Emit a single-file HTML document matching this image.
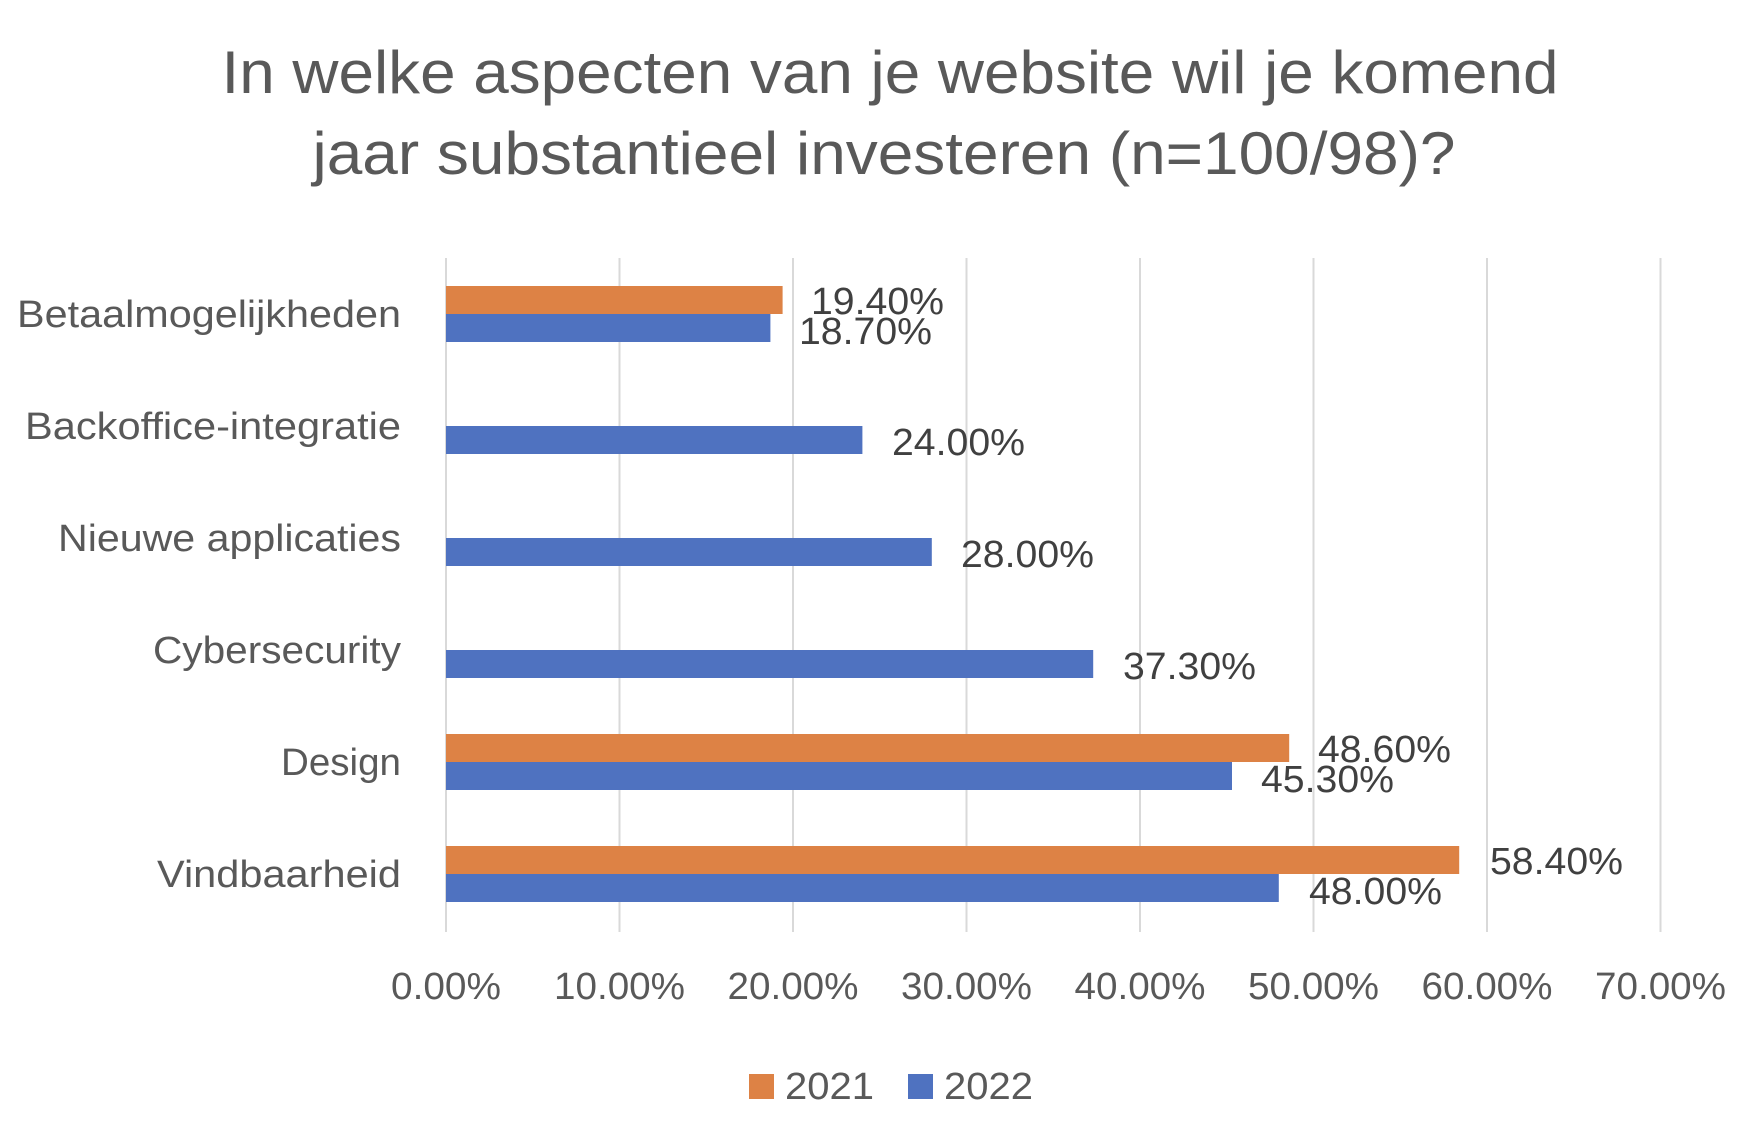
<!DOCTYPE html>
<html><head><meta charset="utf-8"><style>html,body{margin:0;padding:0;background:#fff}svg{display:block}</style></head>
<body>
<svg width="1762" height="1138" viewBox="0 0 1762 1138" xmlns="http://www.w3.org/2000/svg" font-family="'Liberation Sans', sans-serif">
<rect width="1762" height="1138" fill="#fff"/>
<g fill="#595959" font-size="60" text-anchor="middle">
<text x="890" y="93" textLength="1337" lengthAdjust="spacingAndGlyphs">In welke aspecten van je website wil je komend</text>
<text x="884" y="174" textLength="1143" lengthAdjust="spacingAndGlyphs">jaar substantieel investeren (n=100/98)?</text>
</g>
<g stroke="#d9d9d9" stroke-width="2">
<line x1="446" y1="258" x2="446" y2="932"/><line x1="619.5" y1="258" x2="619.5" y2="932"/>
<line x1="793" y1="258" x2="793" y2="932"/><line x1="966.5" y1="258" x2="966.5" y2="932"/>
<line x1="1140" y1="258" x2="1140" y2="932"/><line x1="1313.5" y1="258" x2="1313.5" y2="932"/>
<line x1="1487" y1="258" x2="1487" y2="932"/><line x1="1660.5" y1="258" x2="1660.5" y2="932"/>
</g>
<g>
<rect x="446" y="286" width="336.6" height="28" fill="#dd8245"/>
<rect x="446" y="314" width="324.4" height="28" fill="#4f72c0"/>
<rect x="446" y="426" width="416.4" height="28" fill="#4f72c0"/>
<rect x="446" y="538" width="485.8" height="28" fill="#4f72c0"/>
<rect x="446" y="650" width="647.2" height="28" fill="#4f72c0"/>
<rect x="446" y="734" width="843.2" height="28" fill="#dd8245"/>
<rect x="446" y="762" width="786" height="28" fill="#4f72c0"/>
<rect x="446" y="846" width="1013.2" height="28" fill="#dd8245"/>
<rect x="446" y="874" width="832.8" height="28" fill="#4f72c0"/>
</g>
<g fill="#595959" font-size="38" text-anchor="end">
<text x="401" y="327" textLength="384" lengthAdjust="spacingAndGlyphs">Betaalmogelijkheden</text>
<text x="401" y="439" textLength="376" lengthAdjust="spacingAndGlyphs">Backoffice-integratie</text>
<text x="401" y="551" textLength="343" lengthAdjust="spacingAndGlyphs">Nieuwe applicaties</text>
<text x="401" y="663" textLength="248" lengthAdjust="spacingAndGlyphs">Cybersecurity</text>
<text x="401" y="775" textLength="120" lengthAdjust="spacingAndGlyphs">Design</text>
<text x="401" y="887" textLength="244" lengthAdjust="spacingAndGlyphs">Vindbaarheid</text>
</g>
<g fill="#404040" font-size="38">
<text x="811" y="314" textLength="133" lengthAdjust="spacingAndGlyphs">19.40%</text>
<text x="799" y="344" textLength="133" lengthAdjust="spacingAndGlyphs">18.70%</text>
<text x="892" y="455" textLength="133" lengthAdjust="spacingAndGlyphs">24.00%</text>
<text x="961" y="567" textLength="133" lengthAdjust="spacingAndGlyphs">28.00%</text>
<text x="1123" y="679" textLength="133" lengthAdjust="spacingAndGlyphs">37.30%</text>
<text x="1318" y="762" textLength="133" lengthAdjust="spacingAndGlyphs">48.60%</text>
<text x="1261" y="792" textLength="133" lengthAdjust="spacingAndGlyphs">45.30%</text>
<text x="1490" y="874" textLength="133" lengthAdjust="spacingAndGlyphs">58.40%</text>
<text x="1309" y="904" textLength="133" lengthAdjust="spacingAndGlyphs">48.00%</text>
</g>
<g fill="#595959" font-size="38" text-anchor="middle">
<text x="446" y="999" textLength="110" lengthAdjust="spacingAndGlyphs">0.00%</text>
<text x="619.5" y="999" textLength="131" lengthAdjust="spacingAndGlyphs">10.00%</text>
<text x="793" y="999" textLength="131" lengthAdjust="spacingAndGlyphs">20.00%</text>
<text x="966.5" y="999" textLength="131" lengthAdjust="spacingAndGlyphs">30.00%</text>
<text x="1140" y="999" textLength="131" lengthAdjust="spacingAndGlyphs">40.00%</text>
<text x="1313.5" y="999" textLength="131" lengthAdjust="spacingAndGlyphs">50.00%</text>
<text x="1487" y="999" textLength="131" lengthAdjust="spacingAndGlyphs">60.00%</text>
<text x="1660.5" y="999" textLength="131" lengthAdjust="spacingAndGlyphs">70.00%</text>
</g>
<rect x="749" y="1074" width="25" height="25" fill="#dd8245"/>
<text x="785" y="1099" fill="#595959" font-size="38" textLength="89" lengthAdjust="spacingAndGlyphs">2021</text>
<rect x="908" y="1074" width="25" height="25" fill="#4f72c0"/>
<text x="944" y="1099" fill="#595959" font-size="38" textLength="89" lengthAdjust="spacingAndGlyphs">2022</text>
</svg>
</body></html>
